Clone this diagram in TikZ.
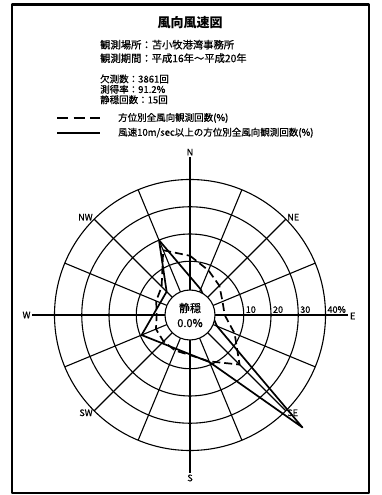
\documentclass[tikz,border=0pt]{standalone}
\usepackage{fontspec}
\setmainfont{Noto Sans CJK JP}[UprightFeatures={FakeBold=0.6}]
\usetikzlibrary{positioning, calc}

\begin{document}
\begin{tikzpicture}[x=1pt, y=1pt, line join=round]
	\useasboundingbox (0, 0) rectangle (382, 495);
	\draw[line width=2.8pt] (12, 2) rectangle (369, 490.5);
	
	\node[font=\fontsize{13}{15}\selectfont\bfseries] (title) at (190, 472) {風向風速図};
	\node[anchor=west, inner sep=0pt, align=left, font=\fontsize{10.3}{13.5}\selectfont] (station) at (100, 443.5) {観測場所：苫小牧港湾事務所\\観測期間：平成16年～平成20年};
	\node[anchor=west, inner sep=0pt, align=left, font=\fontsize{9.5}{10.4}\selectfont] (stats) at (100, 405.7) {欠測数：3861回\\測得率：91.2\%\\静穏回数：15回};
	
	\coordinate (dashA) at (57, 377);
	\coordinate (dashB) at (100, 377);
	\coordinate (lineA) at (57, 362.3);
	\coordinate (lineB) at (100, 362.3);
	\draw[line width=1.7pt, dash pattern=on 11pt off 5.5pt] (dashA) -- (dashB);
	\draw[line width=1.7pt] (lineA) -- (lineB);
	\node[anchor=west, inner sep=0pt, font=\fontsize{9.5}{11}\selectfont] (legAll) at (118, 377) {方位別全風向観測回数(\%)};
	\node[anchor=west, inner sep=0pt, font=\fontsize{9.5}{11}\selectfont] (legFast) at (118, 362.3) {風速10m/sec以上の方位別全風向観測回数(\%)};
	
	\begin{scope}[shift={(190, 180)}, line width=1.1pt, font=\fontsize{9}{10}\selectfont]
		\foreach \r in {53.75, 81, 108.25, 135.5}
			\draw (0, 0) circle (\r);
		\foreach \a in {0, 22.5, ..., 337.5}
			\draw (\a:25) -- (\a:135.5);
		\foreach \a in {0, 90, 180, 270}
			\draw (\a:135.5) -- (\a:158);
		
		\node[anchor=south, inner sep=1pt] (north) at (90:158) {N};
		\node[anchor=north, inner sep=1pt] (south) at (270:158) {S};
		\node[anchor=east, inner sep=1pt] (west) at (180:158) {W};
		\node[anchor=west, inner sep=1.5pt, yshift=-1pt] (east) at (0:158) {E};
		\node[anchor=west, inner sep=1pt, yshift=2pt] (ne) at (45:135.5) {NE};
		\node[anchor=east, inner sep=1pt, yshift=2pt] (nw) at (135:135.5) {NW};
		\node[anchor=east, inner sep=1pt, yshift=-2pt] (sw) at (225:135.5) {SW};
		\node[anchor=west, inner sep=1pt, yshift=-2pt] (se) at (315:135.5) {SE};
		
		\foreach \d/\p in {0/12, 1/8, 2/5.5, 3/3.2, 4/3, 5/8, 6/16, 7/8.7, 8/5, 9/4.4, 10/4, 11/3.8, 12/2.5, 13/3.7, 14/5, 15/16}
			\coordinate (all\d) at ({90-22.5*\d}:{26.5+2.725*\p});
		\foreach \d/\p in {1/0.5, 5/1, 6/48.6, 7/9, 11/9.5, 14/2.4, 15/20}
			\coordinate (fast\d) at ({90-22.5*\d}:{26.5+2.725*\p});
		\draw[line width=1.7pt, dash pattern=on 8pt off 4pt] (all0) -- (all1) -- (all2) -- (all3) -- (all4) -- (all5) -- (all6) -- (all7) -- (all8) -- (all9) -- (all10) -- (all11) -- (all12) -- (all13) -- (all14) -- (all15) -- cycle;
		\draw[line width=1.7pt] (fast1) -- (fast5) -- (fast6) -- (fast7) -- (fast11) -- (fast14) -- (fast15) -- cycle;
		
		\draw[fill=white] (0, 0) circle (25);
		\node[font=\fontsize{11}{12}\selectfont] (calm) at (0, 7) {静穏};
		\node[font=\fontsize{11}{12}\selectfont] (calmPct) at (0, -8) {0.0\%};
		
		\node[anchor=south west, inner sep=1.5pt] (ring10) at (0:53.75) {10};
		\node[anchor=south west, inner sep=1.5pt] (ring20) at (0:81) {20};
		\node[anchor=south west, inner sep=1.5pt] (ring30) at (0:108.25) {30};
		\node[anchor=south west, inner sep=1.5pt] (ring40) at (0:135.5) {40\%};
	\end{scope}
\end{tikzpicture}
\end{document}
